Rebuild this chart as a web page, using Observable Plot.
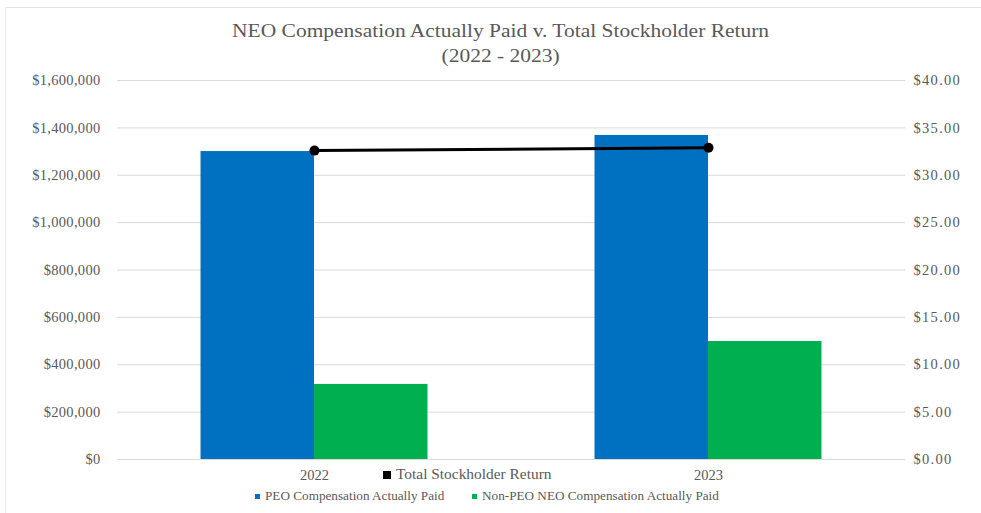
<!DOCTYPE html>
<html>
<head>
<meta charset="utf-8">
<script src="https://cdn.jsdelivr.net/npm/d3@7"></script>
<script src="https://cdn.jsdelivr.net/npm/@observablehq/plot@0.6"></script>
<style>
  html, body { margin: 0; padding: 0; background: #fff; font-family: 'Liberation Serif', 'Times New Roman', 'DejaVu Serif', serif; }
  #wrap { position: relative; width: 981px; height: 513px; overflow: hidden; font-family: 'Liberation Serif', 'Times New Roman', 'DejaVu Serif', serif; color: #595959; }
  #frame { position: absolute; left: 5px; top: 7px; width: 990px; height: 520px; border-top: 1px solid #e4e4e4; border-left: 1px solid #ececec; }
  #title { position: absolute; top: 18px; left: 10px; width: 981px; text-align: center; font-size: 19px; line-height: 25px; }
  #title span { display: inline-block; transform: scaleX(1.13); }
  #chart { position: absolute; top: 70px; left: 0; }
  .leg { position: absolute; line-height: 18px; white-space: nowrap; display: flex; align-items: center; color: #595959; }
  .leg i { display: inline-block; margin-right: 5px; flex: none; }
  .leg span { display: inline-block; transform-origin: left center; transform: scaleX(1.1); }
</style>
</head>
<body>
<div id="wrap">
  <div id="frame"></div>
  <div id="title"><span>NEO Compensation Actually Paid v. Total Stockholder Return<br>(2022 - 2023)</span></div>
  <div id="chart"></div>
</div>
<script>
const years = [2022, 2023];
const peoPaid = [1300000, 1368000];
const nonPeoPaid = [317000, 498000];
const tsr = [32.6, 32.9];
const leftTicks = [0, 200000, 400000, 600000, 800000, 1000000, 1200000, 1400000, 1600000];
const rightTicks = [0, 5, 10, 15, 20, 25, 30, 35, 40];
const seriesNames = ["PEO Compensation Actually Paid", "Non-PEO NEO Compensation Actually Paid", "Total Stockholder Return"];
const seriesColors = ["#0070C0", "#00B050", "#000000"];

const k = 1600000 / 40; // right-axis to left-axis units
const half = 0.288;     // half of a year group's width, in year units

const data = years.map((year, i) => ({year, peo: peoPaid[i], nonPeo: nonPeoPaid[i], tsr: tsr[i]}));

const chart = Plot.plot({
  width: 981,
  height: 415,
  marginTop: 10,
  marginBottom: 26,
  marginLeft: 117,
  marginRight: 76,
  style: {fontFamily: "'Liberation Serif', 'Times New Roman', 'DejaVu Serif', serif", fontSize: "14.5px", color: "#595959", background: "transparent"},
  x: {type: "linear", domain: [2021.5, 2023.5], axis: null},
  y: {domain: [0, 1600000], axis: null},
  marks: [
    Plot.gridY(leftTicks, {stroke: "#d9d9d9", strokeOpacity: 1, strokeWidth: 1}),
    Plot.rect(data, {x1: d => d.year - half, x2: d => d.year, y1: 0, y2: "peo", fill: seriesColors[0]}),
    Plot.rect(data, {x1: d => d.year, x2: d => d.year + half, y1: 0, y2: "nonPeo", fill: seriesColors[1]}),
    Plot.line(data, {x: "year", y: d => d.tsr * k, stroke: seriesColors[2], strokeWidth: 3}),
    Plot.dot(data, {x: "year", y: d => d.tsr * k, r: 5, fill: seriesColors[2]}),
    Plot.axisY(leftTicks, {anchor: "left", tickSize: 0, tickPadding: 17, label: null, tickFormat: d3.format("$,")}),
    Plot.axisY(rightTicks.map(v => v * k), {anchor: "right", tickSize: 0, tickPadding: 8, label: null, tickFormat: d => "$" + (d / k).toFixed(2)}),
    Plot.axisX(years, {anchor: "bottom", tickSize: 0, tickPadding: 10, label: null, tickFormat: d => String(d)})
  ]
});
document.getElementById("chart").appendChild(chart);

// widen the axis labels to match the reference
const labelGroups = chart.querySelectorAll("g[aria-label='y-axis tick label']");
if (labelGroups.length > 1) labelGroups[1].style.letterSpacing = "1.3px";
if (labelGroups.length > 0) labelGroups[0].style.letterSpacing = "0.3px";

// legend
const wrap = document.getElementById("wrap");
const legendItems = [
  {name: seriesNames[2], color: seriesColors[2], left: 383, top: 466, size: 8, font: 14},
  {name: seriesNames[0], color: seriesColors[0], left: 255, top: 487, size: 5, font: 12},
  {name: seriesNames[1], color: seriesColors[1], left: 472, top: 487, size: 5, font: 12}
];
for (const it of legendItems) {
  const el = document.createElement("div");
  el.className = "leg";
  el.style.left = it.left + "px";
  el.style.top = it.top + "px";
  el.style.fontSize = it.font + "px";
  const sw = document.createElement("i");
  sw.style.width = it.size + "px";
  sw.style.height = it.size + "px";
  sw.style.background = it.color;
  const tx = document.createElement("span");
  tx.textContent = it.name;
  el.appendChild(sw);
  el.appendChild(tx);
  wrap.appendChild(el);
}
</script>
</body>
</html>
